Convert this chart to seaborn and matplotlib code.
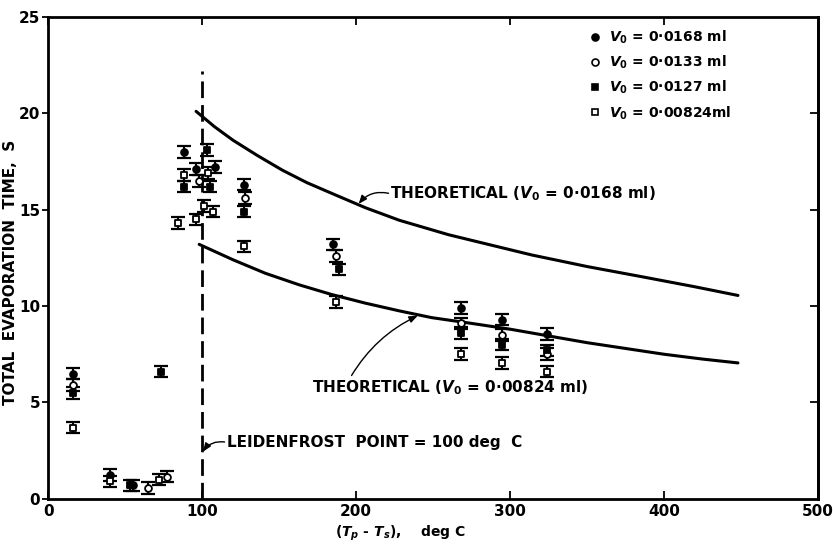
import numpy as np
import pandas as pd
import matplotlib
matplotlib.use("Agg")
import matplotlib.pyplot as plt
import seaborn as sns
from matplotlib.lines import Line2D

################################################################################
# data

# V0 = 0.0168 ml (filled circles)
x_0168 = [16, 40, 55, 88, 96, 108, 127, 185, 268, 295, 324]
y_0168 = [6.5, 1.25, 0.7, 18.0, 17.1, 17.2, 16.3, 13.2, 9.9, 9.3, 8.55]

# V0 = 0.0133 ml (open circles)
x_0133 = [16, 65, 77, 98, 128, 187, 268, 295, 324]
y_0133 = [5.9, 0.55, 1.15, 16.5, 15.6, 12.6, 9.1, 8.5, 7.5]

# V0 = 0.0127 ml (filled squares)
x_0127 = [16, 53, 73, 88, 103, 105, 127, 189, 268, 295, 324]
y_0127 = [5.5, 0.7, 6.6, 16.2, 18.1, 16.2, 14.9, 11.9, 8.6, 8.0, 7.7]

# V0 = 0.00824 ml (open squares)
x_00824 = [16, 40, 72, 84, 88, 96, 101, 104, 107, 127, 187, 268, 295, 324]
y_00824 = [3.7, 0.9, 1.0, 14.3, 16.8, 14.5, 15.2, 16.9, 14.9, 13.1, 10.2, 7.5, 7.05, 6.6]

err = 0.3  # half height of the error bars, s

# theoretical curves
theo_x_0168 = [96, 108, 120, 136, 152, 168, 184, 206, 228, 260, 314, 350, 387, 420, 448]
theo_y_0168 = [20.1, 19.3, 18.6, 17.8, 17.05, 16.4, 15.85, 15.1, 14.45, 13.7, 12.65, 12.05, 11.5, 11.0, 10.55]
theo_x_00824 = [98, 120, 141, 163, 184, 206, 228, 249, 275, 300, 325, 350, 375, 400, 425, 448]
theo_y_00824 = [13.2, 12.4, 11.7, 11.1, 10.6, 10.15, 9.75, 9.4, 9.1, 8.8, 8.45, 8.1, 7.8, 7.5, 7.25, 7.05]

leidenfrost = 100
x_ticks = [0, 100, 200, 300, 400, 500]
y_ticks = [0, 5, 10, 15, 20, 25]

################################################################################

sns.set_style("ticks")
plt.rcParams['font.family'] = ['DejaVu Sans']
plt.rcParams['font.weight'] = 'bold'
plt.rcParams['mathtext.default'] = 'it'
for key in ['text.color', 'axes.labelcolor', 'xtick.color', 'ytick.color', 'axes.edgecolor']:
    plt.rcParams[key] = 'black'

series = [
    ("$V_0$ = 0·0168 ml", x_0168, y_0168, 'o', 'black'),
    ("$V_0$ = 0·0133 ml", x_0133, y_0133, 'o', 'white'),
    ("$V_0$ = 0·0127 ml", x_0127, y_0127, 's', 'black'),
    ("$V_0$ = 0·00824ml", x_00824, y_00824, 's', 'white'),
]

fig = plt.figure(figsize=(8.33, 5.44), dpi=100)
ax = fig.add_axes([0.058, 0.083, 0.924, 0.886])

theo_df = pd.concat([
    pd.DataFrame({'x': theo_x_0168, 'y': theo_y_0168, 'curve': 'a'}),
    pd.DataFrame({'x': theo_x_00824, 'y': theo_y_00824, 'curve': 'b'}),
])
sns.lineplot(data=theo_df, x='x', y='y', units='curve', estimator=None,
             color='black', lw=2.2, ax=ax, legend=False)

ax.plot([leidenfrost, leidenfrost], [0, 22.2], color='black', lw=2,
        linestyle=(0, (6, 2.5)))

handles = []
for label, xs, ys, mk, fc in series:
    ax.errorbar(xs, ys, yerr=err, fmt='none', ecolor='black', elinewidth=1.5,
                capsize=5, capthick=1.6, zorder=3)
    sns.scatterplot(x=xs, y=ys, marker=mk, s=24, color=fc, edgecolor='black',
                    linewidth=1.3, ax=ax, zorder=4, legend=False)
    handles.append(Line2D([], [], linestyle='none', marker=mk, markersize=5,
                          markerfacecolor=fc, markeredgecolor='black',
                          markeredgewidth=1.2, label=label))

ax.legend(handles=handles, loc='upper left', bbox_to_anchor=(0.69, 0.995),
          frameon=False, fontsize=10, handlelength=0.8, handletextpad=0.6,
          labelspacing=0.55, borderpad=0.2)

# annotations
txt_kw = dict(fontsize=11, fontweight='bold', va='center', ha='left')
ax.text(222, 15.85, "THEORETICAL ($V_0$ = 0·0168 ml)", **txt_kw)
ax.text(171, 5.76, "THEORETICAL ($V_0$ = 0·00824 ml)", **txt_kw)
ax.text(116, 2.9, "LEIDENFROST  POINT = 100 deg  C", **txt_kw)

arrow_kw = dict(arrowstyle='-|>,head_length=0.5,head_width=0.2', lw=1,
                color='black', shrinkA=0, shrinkB=0)
ax.annotate("", xy=(201.6, 15.3), xytext=(221, 15.85),
            arrowprops=dict(connectionstyle="arc3,rad=0.3", **arrow_kw))
ax.annotate("", xy=(240, 9.5), xytext=(197, 6.4),
            arrowprops=dict(connectionstyle="arc3,rad=-0.15", **arrow_kw))
ax.annotate("", xy=(100.5, 2.45), xytext=(114.5, 2.95),
            arrowprops=dict(connectionstyle="arc3,rad=0.3", **arrow_kw))

ax.set_xlim(0, 500)
ax.set_ylim(0, 25)
ax.set_xticks(x_ticks)
ax.set_yticks(y_ticks)
ax.set_xticklabels([str(v) for v in x_ticks], fontsize=11, fontweight='bold')
ax.set_yticklabels([str(v) for v in y_ticks], fontsize=11, fontweight='bold')

ax.tick_params(axis='x', direction='in', length=6, width=1.3, top=True, pad=4)
ax.tick_params(axis='y', direction='out', length=4, width=1.3, pad=2)

# inward ticks on the right side
sec = ax.secondary_yaxis('right')
sec.set_yticks(y_ticks[1:-1])
sec.tick_params(direction='in', length=6, width=1.3, labelright=False)
sec.spines['right'].set_linewidth(2)

for sp in ax.spines.values():
    sp.set_linewidth(2)
    sp.set_visible(True)

ax.set_xlabel("$(T_p$ - $T_s)$,    deg C", fontsize=10, fontweight='bold')
ax.set_ylabel("TOTAL  EVAPORATION  TIME,  S", fontsize=11, fontweight='bold')
ax.xaxis.set_label_coords(0.457, -0.052)
ax.yaxis.set_label_coords(-0.04, 0.47)

fig.savefig("out.png", dpi=100)
